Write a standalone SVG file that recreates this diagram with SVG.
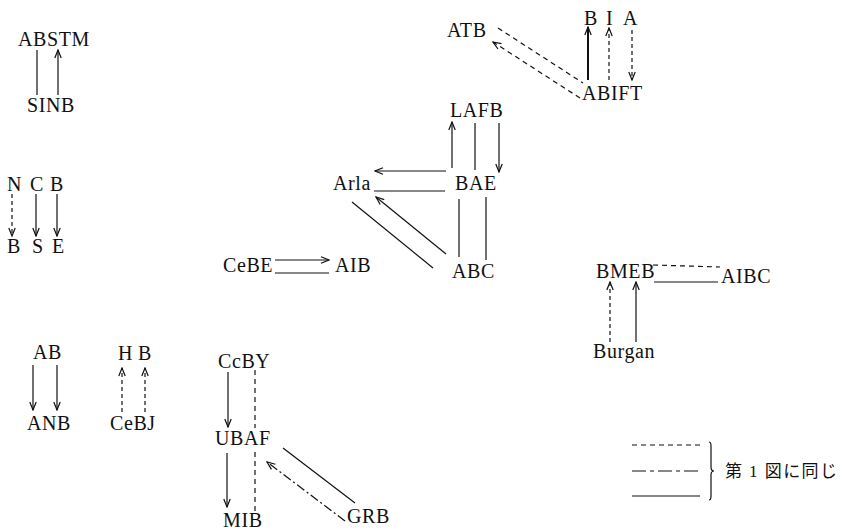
<svg xmlns="http://www.w3.org/2000/svg" width="842" height="532" viewBox="0 0 842 532">
<style>
text{font-family:"Liberation Serif","Noto Sans CJK JP",serif;font-size:20px;fill:#111;letter-spacing:0.6px}
.jp{font-size:17px;letter-spacing:0}
line,path.c{stroke:#111;stroke-width:1.2;fill:none}
.d{stroke-dasharray:5 4}
.dd{stroke-dasharray:4 3}
.dc{stroke-dasharray:9 3 2 3}
.ld{stroke-dasharray:14 4 4 4}
.b{stroke-width:2}
.a{marker-end:url(#ah)}
</style>
<defs>
<marker id="ah" viewBox="-9 -4 10 8" refX="0" refY="0" markerWidth="10" markerHeight="8" markerUnits="userSpaceOnUse" orient="auto">
<path d="M-8,-3.2 L0,0 L-8,3.2" fill="none" stroke="#111" stroke-width="1.2" stroke-dasharray="none"/>
</marker>
</defs>
<rect width="842" height="532" fill="#fff"/>
<g id="connectors">
<line x1="37" y1="50" x2="37" y2="95"/>
<line class="a" x1="58" y1="95" x2="58" y2="50"/>
<line class="a dd" x1="12" y1="194" x2="12" y2="236"/>
<line class="a" x1="36" y1="194" x2="36" y2="236"/>
<line class="a" x1="57" y1="194" x2="57" y2="236"/>
<line class="d" x1="498" y1="28" x2="583" y2="83"/>
<line class="a d" x1="580" y1="98" x2="493" y2="42"/>
<line class="a b" x1="588" y1="80" x2="588" y2="27"/>
<line class="a dd" x1="609" y1="80" x2="609" y2="28"/>
<line class="a dd" x1="632" y1="30" x2="632" y2="80"/>
<line class="a" x1="452" y1="168" x2="452" y2="122"/>
<line x1="475" y1="123" x2="475" y2="170"/>
<line class="a" x1="499" y1="123" x2="499" y2="172"/>
<line class="a" x1="446" y1="171" x2="375" y2="171"/>
<line x1="374" y1="191" x2="445" y2="191"/>
<line x1="459" y1="199" x2="459" y2="257"/>
<line x1="486" y1="197" x2="486" y2="260"/>
<line x1="352" y1="202" x2="433" y2="268"/>
<line class="a" x1="446" y1="254" x2="376" y2="197"/>
<line class="a" x1="275" y1="260" x2="329" y2="260"/>
<line x1="275" y1="273" x2="329" y2="273"/>
<line class="d" x1="653" y1="265" x2="720" y2="267"/>
<line x1="654" y1="282" x2="718" y2="282"/>
<line class="a dd" x1="610" y1="342" x2="610" y2="282"/>
<line class="a" x1="636" y1="342" x2="636" y2="282"/>
<line class="a" x1="33" y1="365" x2="33" y2="410"/>
<line class="a" x1="57" y1="365" x2="57" y2="410"/>
<line class="a dd" x1="122" y1="412" x2="122" y2="368"/>
<line class="a dd" x1="145" y1="412" x2="145" y2="368"/>
<line class="a" x1="228" y1="372" x2="228" y2="427"/>
<line class="d" x1="255" y1="370" x2="255" y2="428"/>
<line class="d" x1="255" y1="452" x2="255" y2="512"/>
<line class="a" x1="227" y1="453" x2="227" y2="507"/>
<line x1="283" y1="448" x2="355" y2="503"/>
<line class="a dc" x1="345" y1="521" x2="267" y2="462"/>
</g>
<g id="n-ABSTM"><text x="18" y="46">ABSTM</text></g>
<g id="n-SINB"><text x="27" y="112">SINB</text></g>
<g id="n-NCB"><text y="191"><tspan x="7">N</tspan><tspan x="30">C</tspan><tspan x="50">B</tspan></text></g>
<g id="n-BSE"><text y="253"><tspan x="7">B</tspan><tspan x="32">S</tspan><tspan x="52">E</tspan></text></g>
<g id="n-ATB"><text x="447" y="37">ATB</text></g>
<g id="n-BIA"><text y="25"><tspan x="584">B</tspan><tspan x="606">I</tspan><tspan x="623">A</tspan></text></g>
<g id="n-ABIFT"><text x="582" y="100">ABIFT</text></g>
<g id="n-LAFB"><text x="450" y="117">LAFB</text></g>
<g id="n-Arla"><text x="333" y="190">Arla</text></g>
<g id="n-BAE"><text x="455" y="190">BAE</text></g>
<g id="n-ABC"><text x="452" y="278">ABC</text></g>
<g id="n-CeBE"><text x="223" y="272">CeBE</text></g>
<g id="n-AIB"><text x="335" y="272">AIB</text></g>
<g id="n-BMEB"><text x="596" y="278">BMEB</text></g>
<g id="n-AIBC"><text x="721" y="283">AIBC</text></g>
<g id="n-Burgan"><text x="593" y="358">Burgan</text></g>
<g id="n-AB"><text x="33" y="359">AB</text></g>
<g id="n-ANB"><text x="27" y="430">ANB</text></g>
<g id="n-HB"><text y="360"><tspan x="118">H</tspan><tspan x="138">B</tspan></text></g>
<g id="n-CeBJ"><text x="110" y="430">CeBJ</text></g>
<g id="n-CcBY"><text x="218" y="368">CcBY</text></g>
<g id="n-UBAF"><text x="215" y="445">UBAF</text></g>
<g id="n-MIB"><text x="223" y="527">MIB</text></g>
<g id="n-GRB"><text x="347" y="523">GRB</text></g>
<g id="legend">
<line class="d" x1="632" y1="445" x2="700" y2="445"/>
<line class="ld" x1="632" y1="471" x2="700" y2="471"/>
<line x1="632" y1="496" x2="700" y2="496"/>
<path class="c" d="M709,442 Q711,442 711,446 L711,467 Q711,471 714,471 Q711,471 711,475 L711,496 Q711,500 709,500"/>
<text class="jp" x="725" y="477" textLength="112" lengthAdjust="spacing">第 1 図に同じ</text>
</g>
</svg>
